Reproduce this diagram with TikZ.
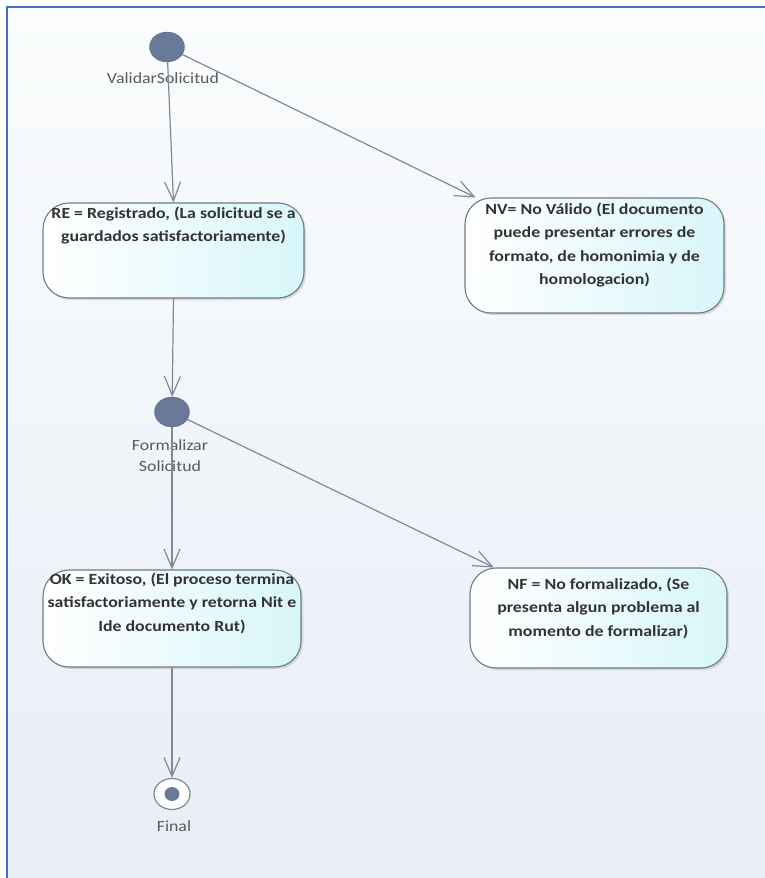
\documentclass[tikz,border=0pt]{standalone}
\usepackage{fontspec}
\setmainfont[FakeStretch=1.15]{Carlito}
\usetikzlibrary{arrows.meta,shadows,shapes.geometric,calc}
\definecolor{bordblue}{HTML}{4472C4}
\definecolor{bgtop}{HTML}{FAFCFD}
\definecolor{bgbot}{HTML}{E8EDF6}
\definecolor{edgecol}{HTML}{7F8A94}
\definecolor{dotcol}{HTML}{687A98}
\definecolor{boxline}{HTML}{6E7C84}
\definecolor{boxcyan}{HTML}{D8F6FA}
\definecolor{txtcol}{HTML}{333333}
\definecolor{lblcol}{HTML}{5A5A5A}
\begin{document}
\begin{tikzpicture}[x=1pt,y=-1pt,
  statebox/.style={draw=boxline, line width=1.1pt, rounded corners=26pt,
    left color=white, right color=boxcyan, inner sep=0pt,
    drop shadow={opacity=0.25,shadow xshift=2pt,shadow yshift=-2pt}},
  boxtext/.style={anchor=north, align=center, text=txtcol, inner sep=0pt,
    font=\bfseries\fontsize{15.5}{23.6}\selectfont},
  initnode/.style={ellipse, fill=dotcol, draw=dotcol!80!black, line width=0.3pt,
    minimum width=35pt, minimum height=30pt, inner sep=0pt},
  finalnode/.style={ellipse, fill=white, draw=edgecol, line width=1.2pt,
    minimum width=36pt, minimum height=31pt, inner sep=0pt},
  lbltext/.style={align=center, text=lblcol, inner sep=0pt,
    font=\fontsize{15.5}{21}\selectfont},
  flow/.style={draw=edgecol, line width=1.2pt,
    -{Straight Barb[length=19pt,width=16pt,line width=1.2pt]}},
]
\useasboundingbox (0,0) rectangle (765,878);
\shade[top color=bgtop, bottom color=bgbot] (7,7) rectangle (765,878);
\draw[bordblue, line width=2.2pt] (7,878) -- (7,7) -- (765,7);

% state boxes
\node[statebox, minimum width=261pt, minimum height=95pt] (RE) at (173.5,250.5) {};
\node[statebox, minimum width=259pt, minimum height=115pt] (NV) at (594.5,255.5) {};
\node[statebox, minimum width=258pt, minimum height=97pt] (OK) at (172,618.5) {};
\node[statebox, minimum width=257pt, minimum height=100pt] (NF) at (598.5,618) {};

\node[boxtext] (REt) at ($(RE.north)+(0,4)$) {RE = Registrado, (La solicitud se a\\guardados satisfactoriamente)};
\node[boxtext] (NVt) at ($(NV.north)+(0,5)$) {NV= No Válido (El documento\\puede presentar errores de\\formato, de homonimia y de\\homologacion)};
\node[boxtext] (OKt) at ($(OK.north)+(0,3)$) {OK = Exitoso, (El proceso termina\\satisfactoriamente y retorna Nit e\\Ide documento Rut)};
\node[boxtext] (NFt) at ($(NF.north)+(0,10)$) {NF = No formalizado, (Se\\presenta algun problema al\\momento de formalizar)};

% pseudo states
\node[initnode] (v1) at (167,47) {};
\node[initnode] (v2) at (172,412) {};
\node[finalnode] (fin) at (172,794) {};
\node[ellipse, fill=dotcol, minimum width=15pt, minimum height=14pt, inner sep=0pt] (findot) at (fin) {};

\node[lbltext] (v1l) at (163,78) {ValidarSolicitud};
\node[lbltext] (v2l) at (170,456) {Formalizar\\Solicitud};
\node[lbltext] (finl) at (174,826) {Final};

% connectors
\draw[flow] (v1) -- (RE.north);
\draw[flow] (v1) -- (NV);
\draw[flow] (RE.south) -- (v2);
\draw[flow] (v2) -- (OK.north);
\draw[flow] (v2) -- (NF);
\draw[flow] (OK.south) -- (fin);
\end{tikzpicture}
\end{document}
